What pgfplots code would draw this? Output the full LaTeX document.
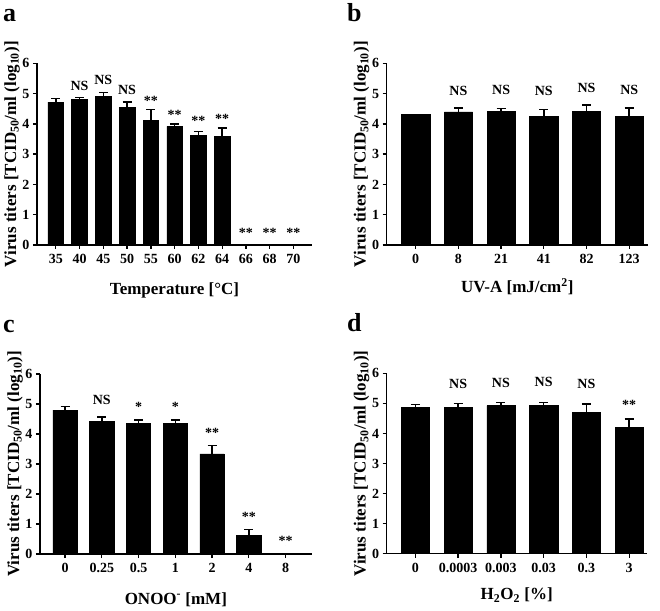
\documentclass[border=0pt]{standalone}
\usepackage{pgfplots}
\pgfplotsset{compat=1.18}
\usepackage{pgfplotstable}
\usepackage{fontspec}
\setmainfont{Liberation Serif}
\newcommand\fs[1]{\fontsize{#1bp}{#1bp}\selectfont}

\pgfplotstableread{
x y e
0 4.72 0.11
1 4.80 0.07
2 4.92 0.11
3 4.55 0.17
4 4.12 0.36
5 3.92 0.08
6 3.63 0.12
7 3.58 0.28
8 0 0
9 0 0
10 0 0
}\dataA
\pgfplotstableread{
x y lab
1 5.09 NS
2 5.29 NS
3 4.98 NS
4 4.60 **
5 4.16 **
6 3.96 **
7 4.01 **
8 0.24 **
9 0.24 **
10 0.24 **
}\labA
\pgfplotstableread{
x y e
0 4.31 0
1 4.40 0.13
2 4.42 0.08
3 4.25 0.22
4 4.42 0.21
5 4.25 0.28
}\dataB
\pgfplotstableread{
x y lab
1 4.94 NS
2 4.98 NS
3 4.94 NS
4 5.05 NS
5 4.98 NS
}\labB
\pgfplotstableread{
x y e
0 4.80 0.11
1 4.41 0.16
2 4.36 0.11
3 4.36 0.11
4 3.34 0.28
5 0.62 0.19
6 0 0
}\dataC
\pgfplotstableread{
x y lab
1 4.98 NS
2 4.75 *
3 4.75 *
4 3.88 **
5 1.07 **
6 0.27 **
}\labC
\pgfplotstableread{
x y e
0 4.88 0.09
1 4.88 0.12
2 4.93 0.10
3 4.93 0.10
4 4.71 0.28
5 4.21 0.27
}\dataD
\pgfplotstableread{
x y lab
1 5.49 NS
2 5.52 NS
3 5.57 NS
4 5.49 NS
5 4.79 **
}\labD

\pgfplotsset{
  panel/.style={
    scale only axis,
    axis x line*=bottom,
    axis y line*=left,
    axis line style={line width=1.5bp, black},
    ymin=0, ymax=6,
    ytick={0,1,2,3,4,5,6},
    enlargelimits=false,
    clip=false,
    tick align=outside,
    major tick length=4bp,
    tick style={line width=1.3bp, black},
    /pgf/number format/assume math mode=true,
    ticklabel style={font=\bfseries\fs{14}},
    xticklabel style={yshift=-2bp},
    label style={font=\bfseries\fs{17}},
    ylabel={Virus titers [TCID\textsubscript{50}/ml (log\textsubscript{10})]},
    ylabel style={at={(axis description cs:0,0.5)}, anchor=center, rotate=0, yshift=25bp},
  },
  bars/.style={
    ybar, bar width=0.66, fill=black, draw=black, line width=0.5bp,
    error bars/.cd, y dir=plus, y explicit,
    error bar style={line width=1.5bp, black},
    error mark options={rotate=90, mark size=4.5bp, line width=1.5bp, black},
  },
  labs/.style={
    only marks, mark=*, mark size=0pt, mark options={draw=none, fill=none},
    nodes near coords, point meta=explicit symbolic,
    nodes near coords style={anchor=base, inner sep=0pt, font=\bfseries\fs{14}, black},
  },
}

\begin{document}
\begin{tikzpicture}
\path[use as bounding box] (0,0) rectangle (660bp,611bp);

% panel a
\begin{axis}[panel, at={(37bp,366bp)}, width=275bp, height=181.7bp,
  xmin=-0.79, xmax=10.78,
  xtick={0,...,10}, xticklabels={35,40,45,50,55,60,62,64,66,68,70},
  xlabel={Temperature [°C]},
  xlabel style={at={(axis description cs:0.5,0)}, anchor=base, yshift=-50bp}]
\addplot[bars] table[x=x, y=y, y error=e] {\dataA};
\addplot[labs] table[x=x, y=y, meta=lab] {\labA};
\end{axis}

% panel b
\begin{axis}[panel, at={(386.7bp,366bp)}, width=261.3bp, height=181.7bp,
  xmin=-0.68, xmax=5.44,
  xtick={0,...,5}, xticklabels={0,8,21,41,82,123},
  xlabel={UV-A [mJ/cm\textsuperscript{2}]},
  xlabel style={at={(axis description cs:0.5,0)}, anchor=base, yshift=-48bp}]
\addplot[bars] table[x=x, y=y, y error=e] {\dataB};
\addplot[labs] table[x=x, y=y, meta=lab] {\labB};
\end{axis}

% panel c
\begin{axis}[panel, at={(40bp,57bp)}, width=271.7bp, height=180bp,
  xmin=-0.68, xmax=6.71,
  xtick={0,...,6}, xticklabels={0,0.25,0.5,1,2,4,8},
  xlabel={ONOO\textsuperscript{-} [mM]},
  xlabel style={at={(axis description cs:0.5,0)}, anchor=base, yshift=-50bp}]
\addplot[bars] table[x=x, y=y, y error=e] {\dataC};
\addplot[labs] table[x=x, y=y, meta=lab] {\labC};
\end{axis}

% panel d
\begin{axis}[panel, at={(386.7bp,57.3bp)}, width=260bp, height=180.3bp,
  xmin=-0.67, xmax=5.41,
  xtick={0,...,5}, xticklabels={0,0.0003,0.003,0.03,0.3,3},
  xlabel={H\textsubscript{2}O\textsubscript{2} [\%]},
  xlabel style={at={(axis description cs:0.5,0)}, anchor=base, yshift=-46bp}]
\addplot[bars] table[x=x, y=y, y error=e] {\dataD};
\addplot[labs] table[x=x, y=y, meta=lab] {\labD};
\end{axis}

\node[anchor=base west, font=\bfseries\fs{26}, inner sep=0pt] at (3bp,589bp) {a};
\node[anchor=base west, font=\bfseries\fs{26}, inner sep=0pt] at (347bp,589bp) {b};
\node[anchor=base west, font=\bfseries\fs{26}, inner sep=0pt] at (3bp,278bp) {c};
\node[anchor=base west, font=\bfseries\fs{26}, inner sep=0pt] at (347bp,279bp) {d};
\end{tikzpicture}
\end{document}
